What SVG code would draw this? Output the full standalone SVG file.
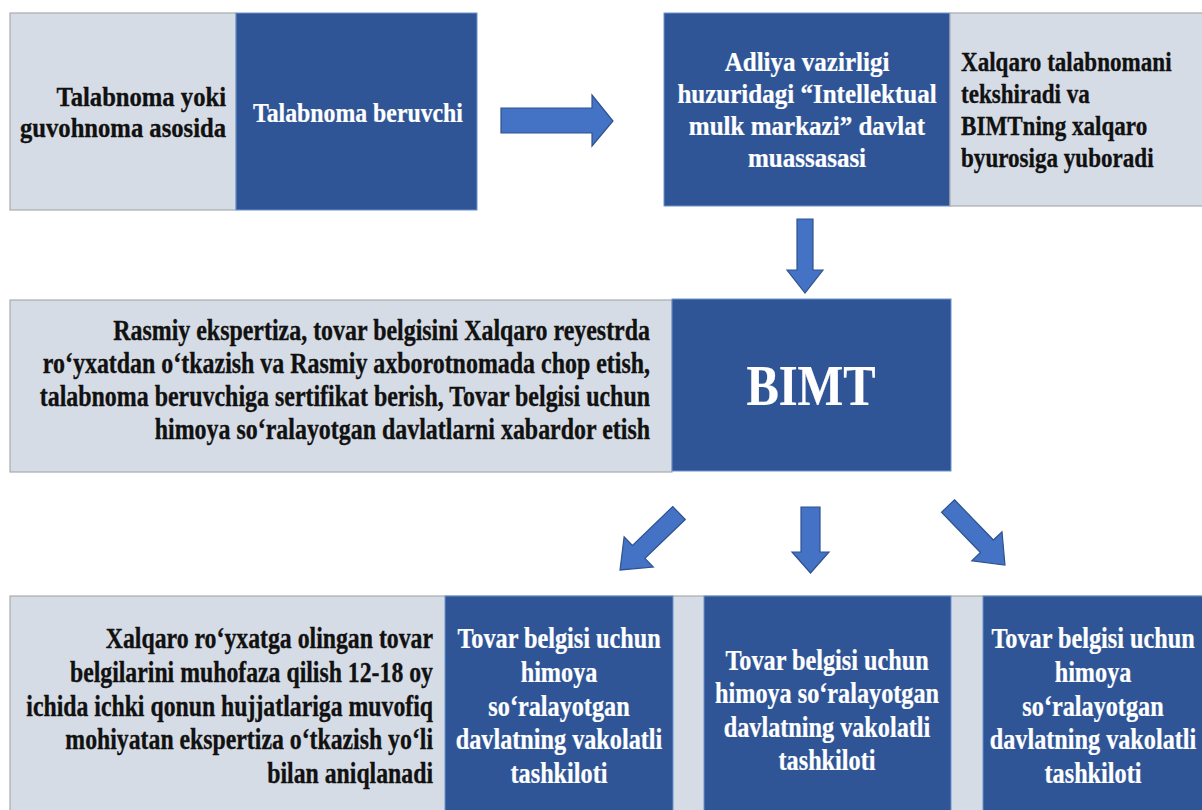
<svg xmlns="http://www.w3.org/2000/svg" width="1202" height="810" viewBox="0 0 1202 810">
<defs>
<style>
.bg{fill:#ffffff}
.light{fill:#D6DCE5;stroke:#A9ABAE;stroke-width:1.2}
.blue{fill:#2F5597;stroke:#6A93CF;stroke-width:1}
.arrow{fill:#4472C4;stroke:#2F528F;stroke-width:1.2;stroke-linejoin:miter}
text{font-family:"Liberation Serif","Times New Roman",serif;font-weight:bold}
.dk{fill:#111111;stroke:#111111;stroke-width:0.35}
.wt{fill:#ffffff;stroke:#ffffff;stroke-width:0.25}
</style>
<path id="diag" d="M0,-9 H56 V-21 L82,0 L56,21 V9 H0 Z"/>
</defs>
<rect class="bg" x="0" y="0" width="1202" height="810"/>

<g id="node-basis">
<rect class="light" x="10" y="13" width="226" height="197"/>
<g transform="translate(226,0) scale(0.88,1)" text-anchor="end" font-size="28">
<text class="dk" x="0" y="106">Talabnoma yoki</text>
<text class="dk" x="0" y="137">guvohnoma asosida</text>
</g>
</g>

<g id="node-applicant">
<rect class="blue" x="236" y="13" width="241" height="197"/>
<g transform="translate(358,0) scale(0.85,1)" text-anchor="middle" font-size="28">
<text class="wt" x="0" y="122">Talabnoma beruvchi</text>
</g>
</g>

<g id="node-imm">
<rect class="blue" x="664" y="13" width="286" height="193"/>
<g transform="translate(807,0) scale(0.91,1)" text-anchor="middle" font-size="27.5">
<text class="wt" x="0" y="71">Adliya vazirligi</text>
<text class="wt" x="0" y="103">huzuridagi “Intellektual</text>
<text class="wt" x="0" y="135">mulk markazi” davlat</text>
<text class="wt" x="0" y="167">muassasasi</text>
</g>
</g>

<g id="node-imm-task">
<rect class="light" x="950" y="13" width="253" height="193"/>
<g transform="translate(961,0) scale(0.84,1)" text-anchor="start" font-size="27.5">
<text class="dk" x="0" y="71">Xalqaro talabnomani</text>
<text class="dk" x="0" y="103">tekshiradi va</text>
<text class="dk" x="0" y="135">BIMTning xalqaro</text>
<text class="dk" x="0" y="167">byurosiga yuboradi</text>
</g>
</g>

<g id="node-bimt-task">
<rect class="light" x="10" y="300" width="662" height="172"/>
<g transform="translate(650,0) scale(0.84,1)" text-anchor="end" font-size="28.5">
<text class="dk" x="0" y="340">Rasmiy ekspertiza, tovar belgisini Xalqaro reyestrda</text>
<text class="dk" x="0" y="373">ro‘yxatdan o‘tkazish va Rasmiy axborotnomada chop etish,</text>
<text class="dk" x="0" y="406">talabnoma beruvchiga sertifikat berish, Tovar belgisi uchun</text>
<text class="dk" x="0" y="439">himoya so‘ralayotgan davlatlarni xabardor etish</text>
</g>
</g>

<g id="node-bimt">
<rect class="blue" x="672" y="299" width="279" height="172"/>
<g transform="translate(811,0) scale(0.85,1)" text-anchor="middle" font-size="57">
<text class="wt" x="0" y="405">BIMT</text>
</g>
</g>

<g id="node-national-task">
<rect class="light" x="10" y="596" width="1193" height="216"/>
<g transform="translate(433,0) scale(0.82,1)" text-anchor="end" font-size="29">
<text class="dk" x="0" y="648">Xalqaro ro‘yxatga olingan tovar</text>
<text class="dk" x="0" y="682">belgilarini muhofaza qilish 12-18 oy</text>
<text class="dk" x="0" y="716">ichida ichki qonun hujjatlariga muvofiq</text>
<text class="dk" x="0" y="749">mohiyatan ekspertiza o‘tkazish yo‘li</text>
<text class="dk" x="0" y="783">bilan aniqlanadi</text>
</g>
</g>

<g id="node-office-1">
<rect class="blue" x="445" y="596" width="228" height="216"/>
<g transform="translate(559,0) scale(0.85,1)" text-anchor="middle" font-size="28.5">
<text class="wt" x="0" y="648">Tovar belgisi uchun</text>
<text class="wt" x="0" y="682">himoya</text>
<text class="wt" x="0" y="716">so‘ralayotgan</text>
<text class="wt" x="0" y="749">davlatning vakolatli</text>
<text class="wt" x="0" y="783">tashkiloti</text>
</g>
</g>

<g id="node-office-2">
<rect class="blue" x="704" y="596" width="247" height="216"/>
<g transform="translate(827,0) scale(0.85,1)" text-anchor="middle" font-size="28.5">
<text class="wt" x="0" y="670">Tovar belgisi uchun</text>
<text class="wt" x="0" y="703.5">himoya so‘ralayotgan</text>
<text class="wt" x="0" y="737">davlatning vakolatli</text>
<text class="wt" x="0" y="770">tashkiloti</text>
</g>
</g>

<g id="node-office-3">
<rect class="blue" x="983" y="596" width="220" height="216"/>
<g transform="translate(1093,0) scale(0.85,1)" text-anchor="middle" font-size="28.5">
<text class="wt" x="0" y="648">Tovar belgisi uchun</text>
<text class="wt" x="0" y="682">himoya</text>
<text class="wt" x="0" y="716">so‘ralayotgan</text>
<text class="wt" x="0" y="749">davlatning vakolatli</text>
<text class="wt" x="0" y="783">tashkiloti</text>
</g>
</g>

<g id="connectors">
<path class="arrow" d="M501,108 H592 V95 L613,121 L592,146 V133 H501 Z"/>
<path class="arrow" d="M797,219 H813 V270 H823 L805,293 L787,270 H797 Z"/>
<use href="#diag" class="arrow" transform="translate(679,513) rotate(136)"/>
<path class="arrow" d="M801,507 H820 V552 H829 L810.5,573 L792,552 H801 Z"/>
<use href="#diag" class="arrow" transform="translate(948,506) rotate(46)"/>
</g>
</svg>
